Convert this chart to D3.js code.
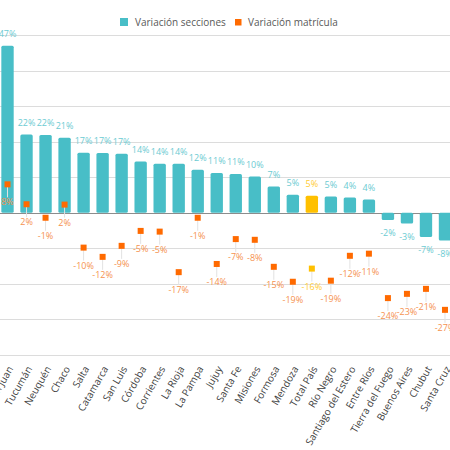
<!DOCTYPE html>
<html>
<head>
<meta charset="utf-8">
<script src="https://cdn.jsdelivr.net/npm/d3@7"></script>
<style>
  body { margin: 0; background: #fff; }
  svg { display: block; font-family: "Open Sans", sans-serif; }
</style>
</head>
<body>
<div id="chart"></div>
<script>
// provincias, en el orden del grafico
var provincias = ["San Juan", "Tucumán", "Neuquén", "Chaco", "Salta", "Catamarca", "San Luis",
  "Córdoba", "Corrientes", "La Rioja", "La Pampa", "Jujuy", "Santa Fe", "Misiones", "Formosa",
  "Mendoza", "Total País", "Río Negro", "Santiago del Estero", "Entre Ríos", "Tierra del Fuego",
  "Buenos Aires", "Chubut", "Santa Cruz"];

// variacion de secciones (%)
var secciones = [47, 22, 21.9, 21.1, 16.9, 16.8, 16.6, 14.4, 13.8, 13.8, 12.1, 11.2, 10.9, 10.2,
  7.4, 5.1, 4.8, 4.6, 4.3, 3.7, -2.0, -3.0, -6.8, -7.8];

// variacion de matricula (%)
var matricula = [8, 2.4, -1.4, 2.3, -9.8, -12.4, -9.3, -5.1, -5.3, -16.7, -1.4, -14.4, -7.4, -7.6,
  -15.2, -19.4, -15.7, -19.1, -12.1, -11.5, -24.0, -22.8, -21.4, -27.3];

var ticks = [-40, -30, -20, -10, 0, 10, 20, 30, 40, 50];
var series = ["Variación secciones", "Variación matrícula"];

var w = 450;
var h = 450;

var teal = "#48bec7";
var orange = "#ff6a00";
var gold = "#ffc000";

var svg = d3.select("#chart").append("svg")
  .attr("width", w)
  .attr("height", h);

//x scale runs a little past both edges, like the original crop//
var x = d3.scaleBand()
  .domain(provincias)
  .range([-2, 454.5])
  .paddingInner(0.35)
  .paddingOuter(0.175);

var y = d3.scaleLinear()
  .domain([-40, 50])
  .range([355, 35]);

function isTotal(i) { return provincias[i] == "Total País"; }

//gridlines//
svg.append("g")
  .selectAll("line")
  .data(ticks)
  .enter()
  .append("line")
  .attr("x1", 0)
  .attr("x2", w)
  .attr("y1", function(d) { return Math.round(y(d)) + 0.5; })
  .attr("y2", function(d) { return Math.round(y(d)) + 0.5; })
  .attr("stroke", function(d) { return d == 0 ? "#8c8c8c" : "#dcdcdc"; })
  .attr("stroke-width", function(d) { return d == 0 ? 1.2 : 1; });

//bars//
svg.append("g")
  .selectAll("rect")
  .data(secciones)
  .enter()
  .append("rect")
  .attr("x", function(d, i) { return x(provincias[i]); })
  .attr("width", x.bandwidth())
  .attr("y", function(d) { return d >= 0 ? y(d) : y(0); })
  .attr("height", function(d) { return Math.abs(y(d) - y(0)); })
  .attr("rx", 1.5)
  .attr("fill", function(d, i) { return isTotal(i) ? gold : teal; });

//bar labels//
svg.append("g")
  .selectAll("text")
  .data(secciones)
  .enter()
  .append("text")
  .attr("x", function(d, i) { return x(provincias[i]) + x.bandwidth() / 2; })
  .attr("y", function(d) { return d >= 0 ? y(d) - 12 : y(d) + 13; })
  .attr("dy", "0.35em")
  .attr("text-anchor", "middle")
  .attr("font-size", "9px")
  .attr("fill", function(d, i) { return isTotal(i) ? "#ffcc33" : "#6ccbd2"; })
  .text(function(d) { return Math.round(d) + "%"; });

//leader lines for the matricula points//
svg.append("g")
  .selectAll("line")
  .data(matricula)
  .enter()
  .append("line")
  .attr("x1", function(d, i) { return x(provincias[i]) + x.bandwidth() / 2; })
  .attr("x2", function(d, i) { return x(provincias[i]) + x.bandwidth() / 2; })
  .attr("y1", function(d) { return y(d); })
  .attr("y2", function(d) { return y(d) + 13; })
  .attr("stroke", "#e2e2e2")
  .attr("stroke-width", 1);

//matricula squares//
svg.append("g")
  .selectAll("rect")
  .data(matricula)
  .enter()
  .append("rect")
  .attr("x", function(d, i) { return x(provincias[i]) + x.bandwidth() / 2 - 3; })
  .attr("y", function(d) { return y(d) - 3; })
  .attr("width", 6)
  .attr("height", 6)
  .attr("fill", function(d, i) { return isTotal(i) ? gold : orange; });

//matricula labels//
svg.append("g")
  .selectAll("text")
  .data(matricula)
  .enter()
  .append("text")
  .attr("x", function(d, i) { return x(provincias[i]) + x.bandwidth() / 2; })
  .attr("y", function(d) { return y(d) + 18; })
  .attr("dy", "0.35em")
  .attr("text-anchor", "middle")
  .attr("font-size", "9px")
  .attr("fill", function(d, i) { return isTotal(i) ? "#ffcc33" : "#f5924f"; })
  .text(function(d) { return Math.round(d) + "%"; });

//category axis labels, rotated//
svg.append("g")
  .selectAll("text")
  .data(provincias)
  .enter()
  .append("text")
  .attr("transform", function(d) {
    return "translate(" + (x(d) + x.bandwidth() / 2 + 3) + ",367) rotate(-60)";
  })
  .attr("dy", "0.35em")
  .attr("text-anchor", "end")
  .attr("font-size", "10px")
  .attr("fill", "#404040")
  .text(function(d) { return d; });

//legend//
var legend = svg.append("g");

legend.append("rect")
  .attr("x", 120).attr("y", 18)
  .attr("width", 8).attr("height", 8)
  .attr("fill", teal);

legend.append("text")
  .attr("x", 135).attr("y", 22)
  .attr("dy", "0.35em")
  .attr("font-size", "10px")
  .attr("fill", "#595959")
  .text(series[0]);

legend.append("rect")
  .attr("x", 235).attr("y", 19)
  .attr("width", 6.5).attr("height", 6.5)
  .attr("fill", orange);

legend.append("text")
  .attr("x", 248).attr("y", 22)
  .attr("dy", "0.35em")
  .attr("font-size", "10px")
  .attr("fill", "#595959")
  .text(series[1]);
</script>
</body>
</html>
